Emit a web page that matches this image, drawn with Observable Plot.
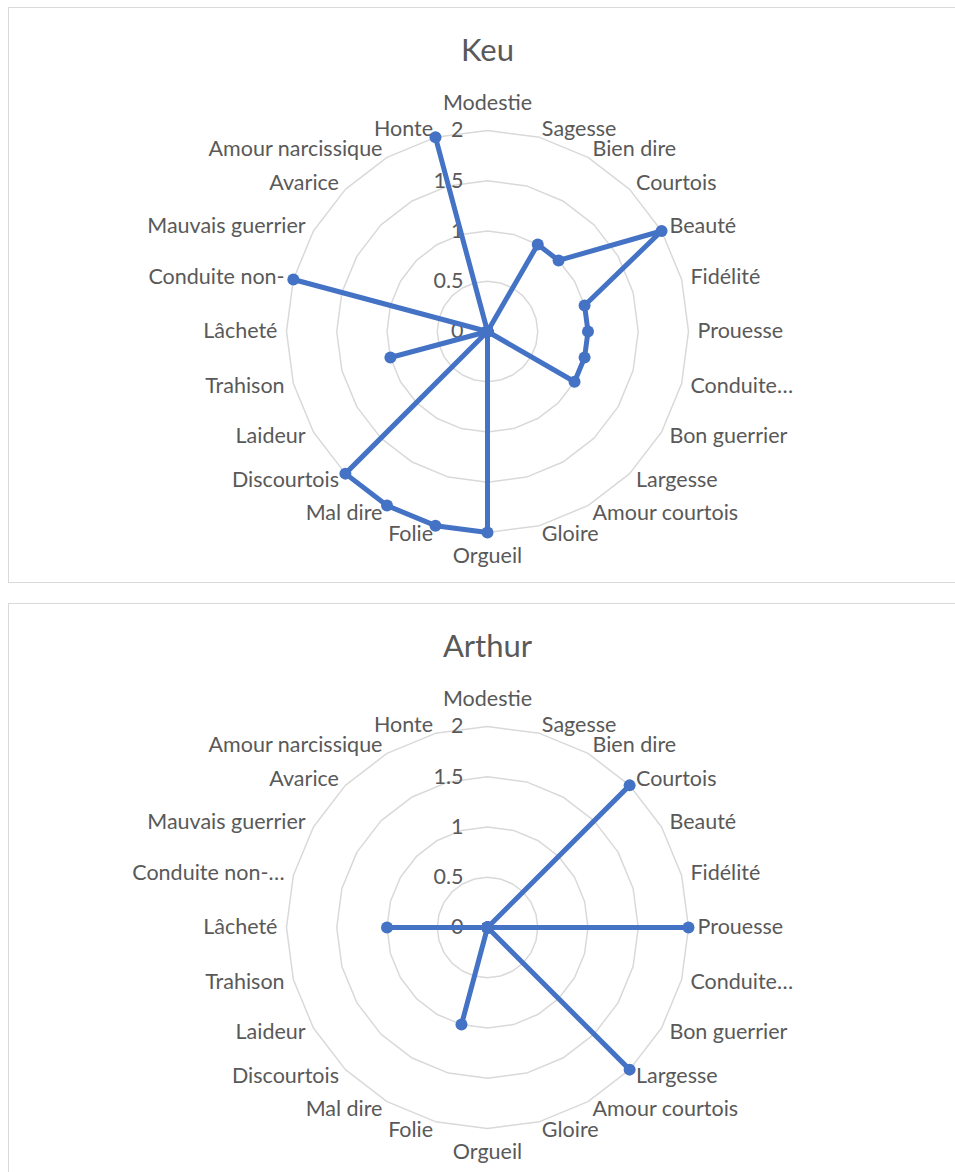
<!DOCTYPE html>
<html><head><meta charset="utf-8">
<script src="https://cdn.jsdelivr.net/npm/d3@7"></script>
<script src="https://cdn.jsdelivr.net/npm/@observablehq/plot@0.6"></script>
<style>
body{margin:0;background:#fff;font-family:Lato,sans-serif;}
.box{position:absolute;left:8px;width:960px;border:1px solid #d9d9d9;background:#fff;box-sizing:border-box;overflow:hidden}
</style></head>
<body>
<div id="b1" class="box" style="top:7px;height:576px"></div>
<div id="b2" class="box" style="top:603px;height:600px"></div>
<script>
const categories = ["Modestie","Sagesse","Bien dire","Courtois","Beauté","Fidélité","Prouesse","Conduite…","Bon guerrier","Largesse","Amour courtois","Gloire","Orgueil","Folie","Mal dire","Discourtois","Laideur","Trahison","Lâcheté","Conduite non-","Mauvais guerrier","Avarice","Amour narcissique","Honte"];
const labelsKeu = categories;
const labelsArthur = categories.map(c => c === "Conduite non-" ? "Conduite non-…" : c);
const keuValues = [0,0,1,1,2,1,1,1,1,0,0,0,2,2,2,2,0,1,0,2,0,0,0,2];
const arthurValues = [0,0,0,2,0,0,2,0,0,2,0,0,0,1,0,0,0,0,1,0,0,0,0,0];
const ticks = [0,0.5,1,1.5,2];
const tickLabels = ["0","0.5","1","1.5","2"];

const BLUE = "#4472C4", GRAY = "#595959", GRID = "#d9d9d9";
const W = 956, H = 574, CX = 478, CY = 323, R = 201;
const FS = 21.5;

function radar(title, labels, values) {
  const n = categories.length;
  const ang = i => i * 2 * Math.PI / n;
  const pts = values.map((v, i) => ({cat: categories[i], v, a: ang(i)}));
  const rings = ticks.filter(t => t > 0).flatMap(t => d3.range(n + 1).map(i => ({t, a: ang(i % n)})));
  const lab = labels.map((l, i) => ({l, a: ang(i), i}));
  const LR = 2.09;
  const right = lab.filter(d => d.i > 0 && d.i < n / 2);
  const left = lab.filter(d => d.i > n / 2);
  const top = lab.filter(d => d.i === 0);
  const bottom = lab.filter(d => d.i === n / 2);
  const lx = d => LR * Math.sin(d.a), ly = d => LR * Math.cos(d.a);
  const common = {fill: GRAY, fontSize: FS, lineAnchor: "middle"};
  return Plot.plot({
    width: W, height: H, margin: 0,
    style: {fontFamily: "Lato, sans-serif", background: "transparent"},
    x: {domain: [-2, 2], range: [CX - R, CX + R], axis: null},
    y: {domain: [-2, 2], range: [CY + R, CY - R], axis: null},
    marks: [
      Plot.line(rings, {x: d => d.t * Math.sin(d.a), y: d => d.t * Math.cos(d.a), z: "t", stroke: GRID, strokeWidth: 1.5}),
      Plot.text(ticks, {x: 0, y: d => d, text: (d, i) => tickLabels[i], textAnchor: "end", dx: -24, ...common}),
      Plot.text(right, {x: lx, y: ly, text: "l", textAnchor: "start", ...common}),
      Plot.text(left, {x: lx, y: ly, text: "l", textAnchor: "end", ...common}),
      Plot.text(top, {x: lx, y: ly, text: "l", textAnchor: "middle", dy: -18, ...common}),
      Plot.text(bottom, {x: lx, y: ly, text: "l", textAnchor: "middle", dy: 15, ...common}),
      Plot.line(pts, {x: d => d.v * Math.sin(d.a), y: d => d.v * Math.cos(d.a), curve: "linear-closed", stroke: BLUE, strokeWidth: 5, strokeLinejoin: "round"}),
      Plot.dot(pts, {x: d => d.v * Math.sin(d.a), y: d => d.v * Math.cos(d.a), r: 6, fill: BLUE}),
      Plot.text([title], {frameAnchor: "top", dy: 43, fontSize: 31, fill: GRAY, lineAnchor: "middle"})
    ]
  });
}
document.getElementById("b1").append(radar("Keu", labelsKeu, keuValues));
document.getElementById("b2").append(radar("Arthur", labelsArthur, arthurValues));
</script>
</body></html>
